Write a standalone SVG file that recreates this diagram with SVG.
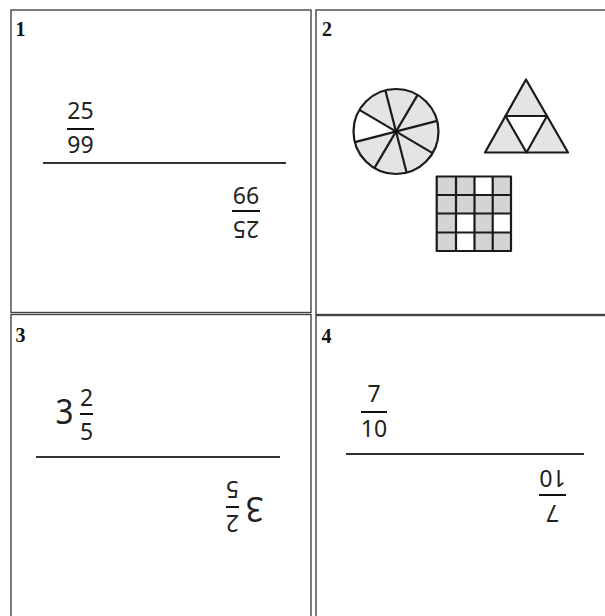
<svg xmlns="http://www.w3.org/2000/svg" width="605" height="616" viewBox="0 0 605 616">
<style>
.cell{fill:none;stroke:#444;stroke-width:1.4}
.num{font-family:"Liberation Serif",serif;font-weight:bold;font-size:20px;fill:#111}
.frac{font-family:"Noto Sans",sans-serif;font-size:23px;fill:#222;text-anchor:middle}
.whole{font-family:"Noto Sans",sans-serif;font-size:35px;fill:#222}
.bar{stroke:#111;stroke-width:2}
.rule{stroke:#333;stroke-width:1.8}
.shape{stroke:#1a1a1a;stroke-width:2.2;stroke-linejoin:round}
.grey{fill:#e4e4e4}
.grey2{fill:#d4d4d4}
</style>
<rect width="605" height="616" fill="#fff"/>

<g id="cell1">
  <rect class="cell" x="11" y="10" width="300" height="302.5"/>
  <text class="num" x="15.5" y="36">1</text>
  <line class="rule" x1="43" y1="163" x2="286" y2="163"/>
  <g transform="translate(80.5,129)">
    <line class="bar" x1="-13.5" y1="0" x2="13.5" y2="0"/>
    <text class="frac" x="0" y="-10">25</text>
    <text class="frac" x="0" y="24">99</text>
  </g>
  <g transform="translate(246,211) rotate(180)">
    <line class="bar" x1="-14" y1="0" x2="14" y2="0"/>
    <text class="frac" x="0" y="-10">25</text>
    <text class="frac" x="0" y="24">99</text>
  </g>
</g>

<g id="cell2">
  <rect class="cell" x="316" y="10" width="300" height="304.5"/>
  <text class="num" x="322" y="36">2</text>
  <g id="circle">
    <circle class="grey" cx="396" cy="131.5" r="42.5"/>
    <path d="M396 131.5 L354.9 142.1 A42.5 42.5 0 0 1 359.4 109.9 Z" fill="#fff"/>
    <g class="shape" fill="none">
      <line x1="437.1" y1="120.9" x2="354.9" y2="142.1"/>
      <line x1="432.6" y1="153.1" x2="359.4" y2="109.9"/>
      <line x1="406.6" y1="172.6" x2="385.4" y2="90.4"/>
      <line x1="374.4" y1="168.1" x2="417.6" y2="94.9"/>
      <circle cx="396" cy="131.5" r="42.5"/>
    </g>
    <circle cx="396" cy="131.5" r="1.6" fill="#000"/>
  </g>
  <g id="triangle">
    <polygon class="shape grey" points="526,79.5 568,152.5 485,152.5"/>
    <polygon class="shape" fill="#fff" points="505.5,116 547,116 526.5,152.5"/>
  </g>
  <g id="grid">
    <rect class="grey2" x="436.7" y="176.5" width="74.3" height="74.5"/>
    <rect x="474.5" y="176.5" width="18.2" height="18.5" fill="#fff"/>
    <rect x="456" y="213.5" width="18.5" height="19" fill="#fff"/>
    <rect x="492.7" y="213.5" width="18.3" height="19" fill="#fff"/>
    <rect x="456" y="232.5" width="18.5" height="18.5" fill="#fff"/>
    <g class="shape" fill="none" stroke-width="2.4">
      <rect x="436.7" y="176.5" width="74.3" height="74.5"/>
      <line x1="456" y1="176.5" x2="456" y2="251"/>
      <line x1="474.5" y1="176.5" x2="474.5" y2="251"/>
      <line x1="492.7" y1="176.5" x2="492.7" y2="251"/>
      <line x1="436.7" y1="195" x2="511" y2="195"/>
      <line x1="436.7" y1="213.5" x2="511" y2="213.5"/>
      <line x1="436.7" y1="232.5" x2="511" y2="232.5"/>
    </g>
  </g>
</g>

<g id="cell3">
  <rect class="cell" x="11" y="314.5" width="300" height="310"/>
  <text class="num" x="15.5" y="341.5">3</text>
  <line class="rule" x1="36" y1="457" x2="280" y2="457"/>
  <g transform="translate(75,414)">
    <text class="whole" x="-19.5" y="10" textLength="18" lengthAdjust="spacingAndGlyphs">3</text>
    <line class="bar" x1="5" y1="0" x2="18" y2="0"/>
    <text class="frac" x="11.5" y="-8">2</text>
    <text class="frac" x="11.5" y="26">5</text>
  </g>
  <g transform="translate(244,507) rotate(180)">
    <text class="whole" x="-19.5" y="10" textLength="18" lengthAdjust="spacingAndGlyphs">3</text>
    <line class="bar" x1="5" y1="0" x2="18" y2="0"/>
    <text class="frac" x="11.5" y="-8">2</text>
    <text class="frac" x="11.5" y="26">5</text>
  </g>
</g>

<g id="cell4">
  <rect class="cell" x="316" y="315.5" width="300" height="310" stroke="#222"/>
  <text class="num" x="321.5" y="342.5">4</text>
  <line class="rule" x1="346" y1="454" x2="584" y2="454"/>
  <g transform="translate(374,412)">
    <line class="bar" x1="-13" y1="0" x2="13" y2="0"/>
    <text class="frac" x="0" y="-10">7</text>
    <text class="frac" x="0" y="25">10</text>
  </g>
  <g transform="translate(552.5,495) rotate(180)">
    <line class="bar" x1="-13.5" y1="0" x2="13.5" y2="0"/>
    <text class="frac" x="0" y="-10">7</text>
    <text class="frac" x="0" y="25">10</text>
  </g>
</g>
</svg>
